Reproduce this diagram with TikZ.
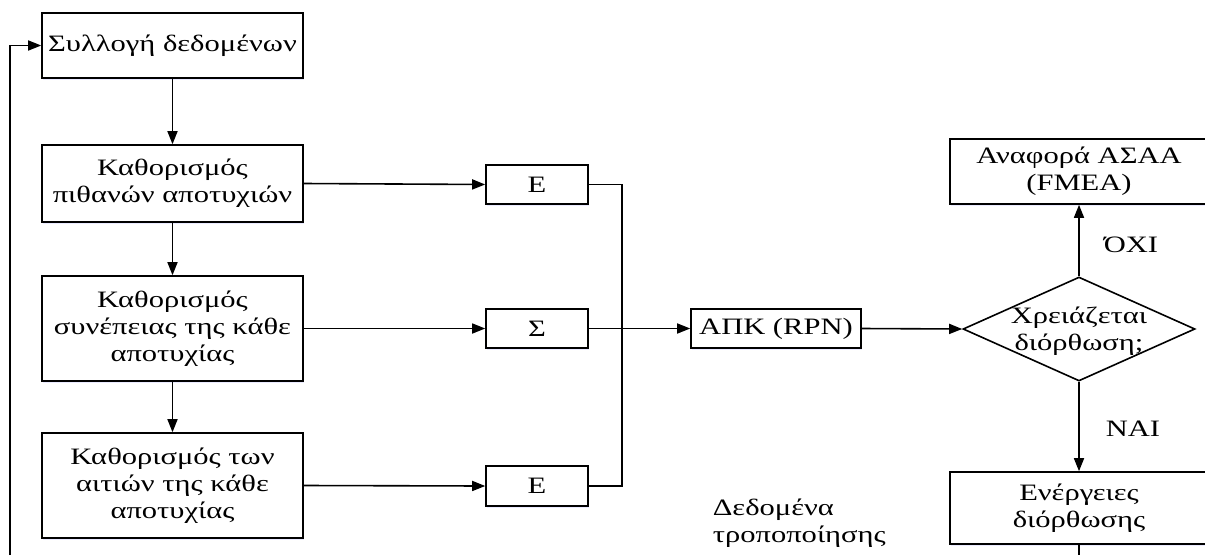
\documentclass[tikz,border=0pt]{standalone}
\usepackage{fontspec}
\setmainfont{Liberation Serif}[FakeStretch=1.3]
\usetikzlibrary{arrows.meta,shapes.geometric,shadows}
\begin{document}
\begin{tikzpicture}[x=1pt,y=-1pt,
  font=\fontsize{23.5}{27}\selectfont,
  line width=1.6pt,
  flow/.style={-{Triangle[length=13pt,width=10pt]}},
  softshadow/.style={drop shadow={shadow xshift=1pt,shadow yshift=-2pt,fill=blue!18,opacity=0.45}},
  box/.style={draw,fill=white,rectangle,inner sep=0pt,align=center,softshadow},
  decision/.style={draw,fill=white,diamond,inner sep=0pt,minimum width=232pt,minimum height=104pt},
  lbl/.style={inner sep=0pt,align=center}
]
\useasboundingbox (0,0) rectangle (1205,555);

% left column of steps
\node[box,minimum width=261pt,minimum height=65pt] (b1) at (172.5,45.5) {Συλλογή δεδομένων};
\node[box,minimum width=261pt,minimum height=77pt] (b2) at (172.5,183.5) {Καθορισμός\\πιθανών αποτυχιών};
\node[box,minimum width=261pt,minimum height=105pt] (b3) at (172.5,328.5) {Καθορισμός\\συνέπειας της κάθε\\αποτυχίας};
\node[box,minimum width=261pt,minimum height=105pt] (b4) at (172.5,485.5) {Καθορισμός των\\αιτιών της κάθε\\αποτυχίας};

% rating boxes
\node[box,minimum width=102pt,minimum height=39pt] (e1) at (537,184.5) {Ε};
\node[box,minimum width=102pt,minimum height=39pt] (s) at (537,328.5) {Σ};
\node[box,minimum width=102pt,minimum height=40pt] (e3) at (537,486) {Ε};

% risk priority number and decision
\node[box,minimum width=170pt,minimum height=39pt] (apk) at (776,328.5) {ΑΠΚ (RPN)};
\node[decision] (dia) at (1079,329) {};
\node[lbl] (diatext) at (1079,331) {Χρειάζεται\\διόρθωση;};
\node[box,minimum width=258pt,minimum height=65pt] (fmea) at (1079,171.5) {Αναφορά ΑΣΑΑ\\(FMEA)};
\node[box,minimum width=258pt,minimum height=72pt] (act) at (1079,508) {Ενέργειες\\διόρθωσης};

% branch labels
\node[lbl] (no) at (1131,245) {ΌΧΙ};
\node[lbl] (yes) at (1133,429) {ΝΑΙ};
\node[lbl,align=left,anchor=west] (mod) at (712,523) {Δεδομένα\\τροποποίησης};

% free ends and junctions
\coordinate (fbstart) at (10,555);
\coordinate (fbcorner) at (10,45.5);
\coordinate (jt) at (622,184.5);
\coordinate (jb) at (622,486);
\coordinate (actend) at (1079,555);

% connectors
\draw[flow] (fbstart) -- (fbcorner) -- (b1.west);
\draw[flow] (b1.south) -- (b2.north);
\draw[flow] (b2.south) -- (b3.north);
\draw[flow] (b3.south) -- (b4.north);
\draw[flow] (b2.east) -- (e1.west);
\draw[flow] (b3.east) -- (s.west);
\draw[flow] (b4.east) -- (e3.west);
\draw (e1.east) -- (jt) -- (jb) -- (e3.east);
\draw[flow] (s.east) -- (apk.west);
\draw[flow] (apk.east) -- (dia.west);
\draw[flow] (dia.north) -- (fmea.south);
\draw[flow] (dia.south) -- (act.north);
\draw (act.south) -- (actend);
\end{tikzpicture}
\end{document}
